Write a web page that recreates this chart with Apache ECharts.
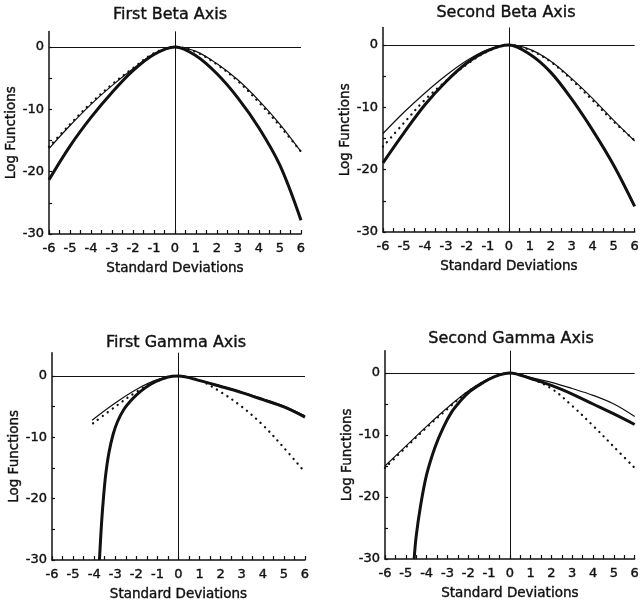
<!DOCTYPE html>
<html>
<head>
<meta charset="utf-8">
<script src="https://cdn.jsdelivr.net/npm/echarts@6/dist/echarts.min.js"></script>
<style>
html, body { margin: 0; padding: 0; background: #fff; }
#chart { width: 642px; height: 607px; }
</style>
</head>
<body>
<div id="chart"></div>
<script>
// x grid (standard deviations) and axis ticks
const sd = [-6, -5, -4, -3, -2, -1, 0, 1, 2, 3, 4, 5, 6];
const xTicks = [-6, -5.5, -5, -4.5, -4, -3.5, -3, -2.5, -2, -1.5, -1, -0.5, 0, 0.5, 1, 1.5, 2, 2.5, 3, 3.5, 4, 4.5, 5, 5.5, 6];
const xLabels = [-6, -5, -4, -3, -2, -1, 0, 1, 2, 3, 4, 5, 6];
const yTicks = [-30, -25, -20, -15, -10, -5, 0];
const yLabels = [-30, -20, -10, 0];

const titles = ['First Beta Axis', 'Second Beta Axis', 'First Gamma Axis', 'Second Gamma Axis'];

// First Beta Axis
const beta1Thick = [-21.3, -15.9, -11.3, -7.3, -3.8, -1.2, 0, -1.4, -4.3, -8.2, -13.0, -19.0, -27.8];
const beta1Thin = [-16.3, -12.6, -9.2, -6.2, -3.5, -1.1, 0, -0.7, -2.7, -5.3, -8.6, -12.4, -16.8];
const beta1Dot = [-16.0, -12.4, -9.0, -6.0, -3.4, -1.0, 0, -0.8, -2.8, -5.5, -8.9, -12.7, -16.8];

// Second Beta Axis
const beta2Thick = [-18.9, -14.1, -9.6, -5.9, -2.9, -0.9, 0, -1.5, -4.4, -8.7, -13.7, -19.3, -25.9];
const beta2Thin = [-14.2, -10.8, -7.7, -4.9, -2.5, -0.75, 0, -0.7, -2.6, -5.4, -8.6, -12.1, -15.4];
const beta2Dot = [-16.3, -12.5, -8.8, -5.8, -3.1, -1.0, 0, -0.8, -2.7, -5.6, -8.9, -12.3, -15.3];

// First Gamma Axis
const gamma1ThickX = [-3.75, -3.65, -3.55, -3.45, -3.3, -3.1, -2.9, -2.6, -2.2, -1.8, -1.3, -0.8, -0.3, 0, 1, 2, 3, 4, 5, 6];
const gamma1Thick = [-30, -24, -19.5, -16, -12.5, -9.5, -7.5, -5.5, -3.8, -2.5, -1.3, -0.5, -0.05, 0, -0.75, -1.7, -2.7, -3.85, -5.05, -6.7];
const gamma1ThinX = [-4.1, -3, -2, -1, 0, 1, 2, 3, 4, 5, 6];
const gamma1Thin = [-7.2, -4.4, -2.2, -0.6, 0, -0.7, -1.6, -2.6, -3.7, -4.9, -6.5];
const gamma1DotX = [-4.05, -3, -2, -1, 0, 1, 2, 3, 4, 5, 6];
const gamma1Dot = [-7.7, -5.0, -2.6, -0.8, 0, -0.7, -2.6, -5.0, -8.0, -11.7, -15.7];

// Second Gamma Axis
const gamma2ThickX = [-4.6, -4.5, -4.3, -4.0, -3.6, -3.2, -2.8, -2.4, -2, -1.5, -1, -0.5, 0, 1, 2, 3, 4, 5, 6];
const gamma2Thick = [-30, -26.3, -21.6, -16.4, -12, -8.8, -6.3, -4.6, -3.2, -2.0, -1.0, -0.3, 0, -0.9, -2.0, -3.4, -5.0, -6.6, -8.3];
const gamma2Thin = [-15.0, -11.8, -8.6, -5.6, -2.9, -0.9, 0, -0.7, -1.5, -2.5, -3.6, -5.0, -7.0];
const gamma2Dot = [-15.3, -12.0, -8.8, -5.8, -3.0, -1.0, 0, -0.9, -2.5, -5.3, -8.5, -11.9, -15.3];

const ink = '#111';
const font = 'DejaVu Sans';

// panel layout
const panels = [
    {grid: {left: 49, right: 341, top: 31.4, bottom: 373}, yMax: 2.5, titlePos: [170, 7], yGap: 29, xGap: 27},
    {grid: {left: 383, right: 6, top: 27.5, bottom: 375}, yMax: 2.8, titlePos: [506, 5], yGap: 31, xGap: 27},
    {grid: {left: 52, right: 337, top: 352.7, bottom: 47}, yMax: 3.8, titlePos: [176, 335], yGap: 28, xGap: 27},
    {grid: {left: 385, right: 5, top: 350.7, bottom: 48}, yMax: 3.6, titlePos: [511, 331], yGap: 31, xGap: 27}
];

const curves = [
    [[sd, beta1Thick], [sd, beta1Thin], [sd, beta1Dot]],
    [[sd, beta2Thick], [sd, beta2Thin], [sd, beta2Dot]],
    [[gamma1ThickX, gamma1Thick], [gamma1ThinX, gamma1Thin], [gamma1DotX, gamma1Dot]],
    [[gamma2ThickX, gamma2Thick], [sd, gamma2Thin], [sd, gamma2Dot]]
];

function zip(xs, ys) {
    return xs.map((x, i) => [x, ys[i]]);
}

const styles = [
    {width: 3, type: 'solid'},
    {width: 1.2, type: 'solid'},
    {width: 2.3, type: [0.1, 6], cap: 'round'}
];

// thicker strokes for the old lettering look
const textLook = {fontFamily: font, color: ink, textBorderColor: ink, textBorderWidth: 0.4};

let grid = [], xAxis = [], yAxis = [], series = [], title = [];
panels.forEach((p, i) => {
    grid.push(p.grid);
    title.push({
        text: titles[i],
        left: p.titlePos[0],
        top: p.titlePos[1],
        textAlign: 'center',
        padding: 0,
        textStyle: Object.assign({fontSize: 16, fontWeight: 'normal'}, textLook)
    });
    xAxis.push({
        type: 'value', gridIndex: i, min: -6, max: 6,
        name: 'Standard Deviations', nameLocation: 'middle', nameGap: p.xGap,
        nameTextStyle: Object.assign({fontSize: 13.5}, textLook),
        axisLine: {onZero: false, lineStyle: {color: ink, width: 1.5}},
        axisTick: {inside: true, length: 4, customValues: xTicks, lineStyle: {color: ink, width: 1.2}},
        axisLabel: Object.assign({customValues: xLabels, fontSize: 13, margin: 8}, textLook),
        splitLine: {show: false}
    });
    yAxis.push({
        type: 'value', gridIndex: i, min: -30, max: p.yMax,
        name: 'Log Functions', nameLocation: 'middle', nameGap: p.yGap,
        nameTextStyle: Object.assign({fontSize: 13.5}, textLook),
        axisLine: {show: true, onZero: false, lineStyle: {color: ink, width: 1.5}},
        axisTick: {show: true, inside: true, length: 3, customValues: yTicks, lineStyle: {color: ink, width: 1.2}},
        axisLabel: Object.assign({customValues: yLabels, fontSize: 13, margin: 5}, textLook),
        splitLine: {show: false}
    });
    curves[i].forEach((c, k) => {
        const s = {
            type: 'line',
            xAxisIndex: i,
            yAxisIndex: i,
            data: zip(c[0], c[1]),
            showSymbol: false,
            symbol: 'none',
            smooth: 0.35,
            lineStyle: Object.assign({color: ink}, styles[k]),
            silent: true,
            animation: false
        };
        if (k === 1) {
            s.markLine = {
                silent: true,
                symbol: ['none', 'none'],
                label: {show: false},
                lineStyle: {color: ink, type: 'solid', width: 1},
                animation: false,
                data: [{yAxis: 0}, {xAxis: 0}]
            };
        }
        series.push(s);
    });
});

const chart = echarts.init(document.getElementById('chart'), null, {renderer: 'canvas'});
chart.setOption({
    backgroundColor: '#fff',
    animation: false,
    title: title,
    grid: grid,
    xAxis: xAxis,
    yAxis: yAxis,
    series: series
});
</script>
</body>
</html>
